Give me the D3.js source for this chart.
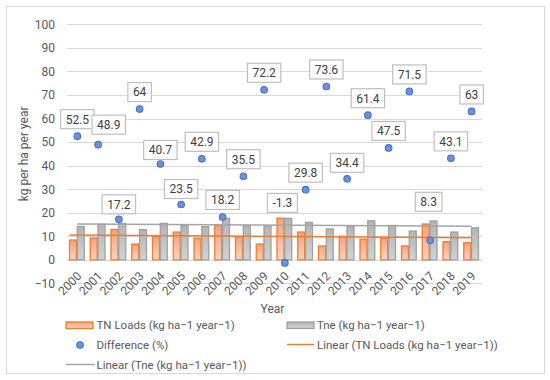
<!DOCTYPE html>
<html>
<head>
<meta charset="utf-8">
<script src="https://cdn.jsdelivr.net/npm/d3@7"></script>
<style>
  body { margin: 0; background: #fff; }
  text { font-family: Roboto, "Liberation Sans", Arial, sans-serif; }
</style>
</head>
<body>
<div id="chart"></div>
<script>
// category axis
const years = ['2000', '2001', '2002', '2003', '2004', '2005', '2006', '2007', '2008', '2009',
  '2010', '2011', '2012', '2013', '2014', '2015', '2016', '2017', '2018', '2019'];
// bar series (kg per ha per year)
const tnLoads = [8.4, 9.3, 12.9, 6.7, 9.8, 11.8, 9.2, 14.6, 9.8, 6.7,
  17.7, 11.8, 5.9, 10.0, 8.8, 9.2, 5.9, 15.2, 7.7, 7.3];
const tne = [14.2, 15.1, 15.5, 12.8, 15.5, 14.6, 14.1, 17.6, 14.5, 14.3,
  17.6, 15.9, 13.1, 14.4, 16.6, 14.6, 12.2, 16.5, 11.8, 13.6];
// scatter series
const difference = [52.5, 48.9, 17.2, 64, 40.7, 23.5, 42.9, 18.2, 35.5, 72.2,
  -1.3, 29.8, 73.6, 34.4, 61.4, 47.5, 71.5, 8.3, 43.1, 63];
const yTicks = [-10, 0, 10, 20, 30, 40, 50, 60, 70, 80, 90, 100];

// label nudges where the labels were moved apart (px)
const labelShift = {
  '2001': [10.6, -20], '2002': [0, -15], '2004': [0, -14], '2005': [0, -15.5],
  '2010': [-2.5, -60], '2013': [0, -16], '2017': [-1.5, -38.5]
};

const W = 550, H = 380;
const plot = { left: 67, right: 482, top: 24.3, bottom: 283.4 };
const FS = '11.5px';

const svg = d3.select('#chart').append('svg')
  .attr('width', W).attr('height', H);

const defs = svg.append('defs');
const gOr = defs.append('linearGradient').attr('id', 'gOr').attr('x1', 0).attr('y1', 0).attr('x2', 0).attr('y2', 1);
gOr.append('stop').attr('offset', '0%').attr('stop-color', '#F5A27A');
gOr.append('stop').attr('offset', '100%').attr('stop-color', '#FAD4BF');
const gGr = defs.append('linearGradient').attr('id', 'gGr').attr('x1', 0).attr('y1', 0).attr('x2', 0).attr('y2', 1);
gGr.append('stop').attr('offset', '0%').attr('stop-color', '#B4B4B4');
gGr.append('stop').attr('offset', '100%').attr('stop-color', '#D2D2D2');

// outer frame
svg.append('rect')
  .attr('x', 6.5).attr('y', 6.5).attr('width', 538).attr('height', 367)
  .attr('fill', '#fff').attr('stroke', '#D9D9D9');

const x = d3.scaleBand().domain(years).range([plot.left, plot.right]).paddingInner(0);
const y = d3.scaleLinear().domain([-10, 100]).range([plot.bottom, plot.top]);
const sub = d3.scaleBand().domain(['tn', 'tne']).range([2.5, x.bandwidth() - 3.5]).paddingInner(0.1);

// gridlines
svg.append('g').selectAll('line').data(yTicks).join('line')
  .attr('x1', plot.left).attr('x2', plot.right)
  .attr('y1', d => Math.round(y(d)) + 0.5).attr('y2', d => Math.round(y(d)) + 0.5)
  .attr('stroke', '#D9D9D9').attr('stroke-width', 1);

// y axis labels
const yAxis = svg.append('g')
  .attr('transform', `translate(${plot.left},0)`)
  .call(d3.axisLeft(y).tickValues(yTicks).tickSize(0).tickPadding(12));
yAxis.select('.domain').remove();
yAxis.selectAll('text')
  .attr('fill', '#595959').style('font-size', '12px')
  .style('font-family', 'Roboto, "Liberation Sans", Arial, sans-serif');

// bars
const barG = svg.append('g');
barG.selectAll('.tn').data(tnLoads).join('rect')
  .attr('class', 'tn')
  .attr('x', (d, i) => x(years[i]) + sub('tn'))
  .attr('y', d => y(d))
  .attr('width', sub.bandwidth())
  .attr('height', d => y(0) - y(d))
  .attr('fill', 'url(#gOr)').attr('stroke', '#ED7D31').attr('stroke-width', 1.3);
barG.selectAll('.tne').data(tne).join('rect')
  .attr('class', 'tne')
  .attr('x', (d, i) => x(years[i]) + sub('tne'))
  .attr('y', d => y(d))
  .attr('width', sub.bandwidth())
  .attr('height', d => y(0) - y(d))
  .attr('fill', 'url(#gGr)').attr('stroke', '#A0A0A0').attr('stroke-width', 1.3);

// linear trendlines (least squares on the category index)
function fit(vals) {
  const mx = d3.mean(vals, (d, i) => i), my = d3.mean(vals);
  const b = d3.sum(vals, (d, i) => (i - mx) * (d - my)) / d3.sum(vals, (d, i) => (i - mx) ** 2);
  return i => my + b * (i - mx);
}
const fTn = fit(tnLoads), fTne = fit(tne);
const last = years.length - 1;
svg.append('line')
  .attr('x1', x(years[0]) + sub('tne')).attr('x2', x(years[last]) + sub('tne'))
  .attr('y1', y(fTne(0))).attr('y2', y(fTne(last)))
  .attr('stroke', '#A5A5A5').attr('stroke-width', 1.5);
svg.append('line')
  .attr('x1', x(years[0]) + sub('tn')).attr('x2', x(years[last]) + sub('tn') + sub.bandwidth())
  .attr('y1', y(fTn(0))).attr('y2', y(fTn(last)))
  .attr('stroke', '#ED7D31').attr('stroke-width', 1.5);

// difference points
const cx = i => x(years[i]) + x.bandwidth() / 2;
svg.append('g').selectAll('circle').data(difference).join('circle')
  .attr('cx', (d, i) => cx(i))
  .attr('cy', d => y(d))
  .attr('r', 3.3)
  .attr('fill', '#6F90DA').attr('stroke', '#4472C4').attr('stroke-width', 1.1);

// data labels
const lab = svg.append('g').selectAll('g').data(difference).join('g')
  .attr('transform', (d, i) => {
    const s = labelShift[years[i]] || [0, -17];
    return `translate(${cx(i) + s[0]},${y(d) + s[1]})`;
  });
lab.append('text')
  .attr('text-anchor', 'middle').attr('dy', '0.36em')
  .attr('fill', '#404040').style('font-size', '12px')
  .text(d => String(d));
lab.each(function () {
  const g = d3.select(this);
  const w = g.select('text').node().getComputedTextLength() + 10;
  g.insert('rect', 'text')
    .attr('x', -w / 2).attr('y', -9.5).attr('width', w).attr('height', 19)
    .attr('fill', '#fff').attr('stroke', '#BFBFBF').attr('stroke-width', 1.2);
});

// x axis labels
svg.append('g').selectAll('text').data(years).join('text')
  .attr('transform', d => `translate(${x(d) + x.bandwidth() / 2 + 5},${y(0) + 17}) rotate(-45)`)
  .attr('text-anchor', 'end')
  .attr('fill', '#595959').style('font-size', '12px')
  .text(d => d);

// axis titles
svg.append('text')
  .attr('x', 272.5).attr('y', 313)
  .attr('text-anchor', 'middle').attr('fill', '#595959').style('font-size', '12px')
  .text('Year');
svg.append('text')
  .attr('transform', `translate(28,${(plot.top + plot.bottom) / 2}) rotate(-90)`)
  .attr('text-anchor', 'middle').attr('fill', '#595959').style('font-size', '12px')
  .text('kg per ha per year');

// legend
const leg = svg.append('g').style('font-size', FS);
function legText(lx, ly, t) {
  leg.append('text').attr('x', lx).attr('y', ly).attr('dy', '0.36em')
    .attr('fill', '#595959').text(t);
}
leg.append('rect').attr('x', 66).attr('y', 322).attr('width', 27).attr('height', 6.5)
  .attr('fill', 'url(#gOr)').attr('stroke', '#ED7D31').attr('stroke-width', 1.3);
legText(96.5, 325, 'TN Loads (kg ha−1 year−1)');
leg.append('rect').attr('x', 287).attr('y', 322).attr('width', 27).attr('height', 6.5)
  .attr('fill', 'url(#gGr)').attr('stroke', '#A0A0A0').attr('stroke-width', 1.3);
legText(317, 325, 'Tne (kg ha−1 year−1)');
leg.append('circle').attr('cx', 80).attr('cy', 345).attr('r', 3.3)
  .attr('fill', '#6F90DA').attr('stroke', '#4472C4').attr('stroke-width', 1.1);
legText(96.5, 345, 'Difference (%)');
leg.append('line').attr('x1', 287).attr('x2', 314).attr('y1', 344.5).attr('y2', 344.5)
  .attr('stroke', '#ED7D31').attr('stroke-width', 1.5);
legText(317, 345, 'Linear (TN Loads (kg ha−1 year−1))');
leg.append('line').attr('x1', 66).attr('x2', 95).attr('y1', 364.5).attr('y2', 364.5)
  .attr('stroke', '#A5A5A5').attr('stroke-width', 1.5);
legText(96.5, 365, 'Linear (Tne (kg ha−1 year−1))');
</script>
</body>
</html>
